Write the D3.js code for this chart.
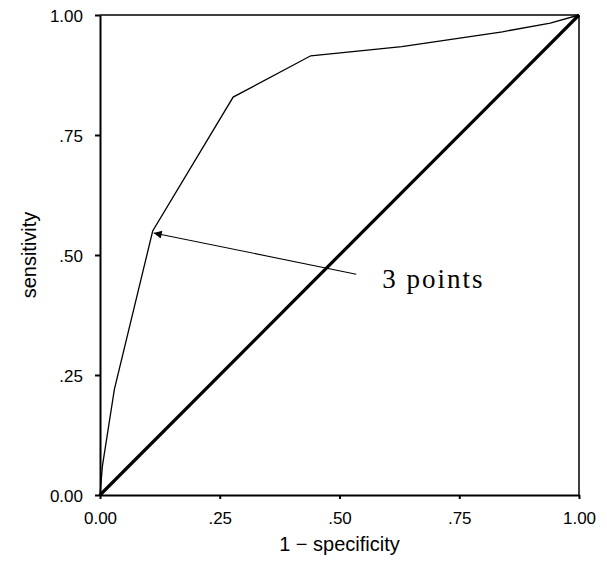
<!DOCTYPE html>
<html><head><meta charset="utf-8">
<script src="https://cdn.jsdelivr.net/npm/d3@7"></script>
<style>body{margin:0;background:#fff;} svg{display:block;}</style>
</head><body>
<svg id="c" width="607" height="564"></svg>
<script>
const rocFpr  = [0, 0.005, 0.03, 0.11, 0.278, 0.44, 0.63, 0.84, 0.94, 1.0];
const rocSens = [0, 0.06, 0.22, 0.55, 0.829, 0.915, 0.934, 0.965, 0.983, 1.0];
const refLine = [[0,0],[1,1]];
const tickVals = [0, 0.25, 0.5, 0.75, 1];
const tickLabels = ["0.00", ".25", ".50", ".75", "1.00"];
const annotText = "3 points";
const annotPoint = [0.11, 0.55];
const annotFrom = [0.535, 0.46];

const svg = d3.select("#c");
const L=100, R=579, T=15, B=495;
const x = d3.scaleLinear().domain([0,1]).range([L,R]);
const y = d3.scaleLinear().domain([0,1]).range([B,T]);

svg.append("line").attr("x1",L).attr("x2",R).attr("y1",T).attr("y2",T).attr("stroke","#000").attr("stroke-width",1.5);
svg.append("line").attr("x1",R).attr("x2",R).attr("y1",T).attr("y2",B).attr("stroke","#000").attr("stroke-width",1.5);

const fmt = d => tickLabels[tickVals.indexOf(d)];
const xAxis = svg.append("g").attr("transform",`translate(0,${B})`)
  .call(d3.axisBottom(x).tickValues(tickVals).tickFormat(fmt).tickSize(4).tickSizeOuter(0));
const yAxis = svg.append("g").attr("transform",`translate(${L},0)`)
  .call(d3.axisLeft(y).tickValues(tickVals).tickFormat(fmt).tickSize(5).tickSizeOuter(0));
[xAxis,yAxis].forEach(g=>{
  g.select(".domain").attr("stroke","#000").attr("stroke-width",2);
  g.selectAll(".tick line").attr("stroke","#000").attr("stroke-width",2);
  g.selectAll(".tick text").attr("fill","#000").style("font-family","Liberation Sans, Arial, sans-serif").style("font-size","17px");
});
xAxis.selectAll(".tick text").attr("dy","0").attr("y",29);
yAxis.selectAll(".tick text").attr("x",-17).attr("dy","0.36em");

svg.append("path").datum(refLine)
  .attr("d", d3.line().x(d=>x(d[0])).y(d=>y(d[1])))
  .attr("fill","none").attr("stroke","#000").attr("stroke-width",3.2);

const roc = rocFpr.map((f,i)=>[f, rocSens[i]]);
svg.append("path").datum(roc)
  .attr("d", d3.line().x(d=>x(d[0])).y(d=>y(d[1])))
  .attr("fill","none").attr("stroke","#000").attr("stroke-width",1.3);

svg.append("defs").append("marker").attr("id","ah").attr("viewBox","0 0 10 10")
  .attr("refX",10).attr("refY",5).attr("markerWidth",10).attr("markerHeight",8)
  .attr("markerUnits","userSpaceOnUse").attr("orient","auto")
  .append("path").attr("d","M0,0 L10,5 L0,10 z").attr("fill","#000");
svg.append("line")
  .attr("x1",x(annotFrom[0])).attr("y1",y(annotFrom[1]))
  .attr("x2",x(annotPoint[0])+1).attr("y2",y(annotPoint[1])+2)
  .attr("stroke","#000").attr("stroke-width",1.1).attr("marker-end","url(#ah)");
svg.append("text").attr("x",x(annotFrom[0])+26).attr("y",y(annotFrom[1])+14)
  .style("font-family","Liberation Serif, Times New Roman, serif").style("font-size","27px")
  .style("letter-spacing","2px")
  .text(annotText);

svg.append("text").attr("x",(L+R)/2).attr("y",551).attr("text-anchor","middle")
  .style("font-family","Liberation Sans, Arial, sans-serif").style("font-size","20px").text("1 − specificity");
svg.append("text").attr("transform",`translate(36,${(T+B)/2}) rotate(-90)`).attr("text-anchor","middle")
  .style("font-family","Liberation Sans, Arial, sans-serif").style("font-size","20px").text("sensitivity");
</script>
</body></html>
